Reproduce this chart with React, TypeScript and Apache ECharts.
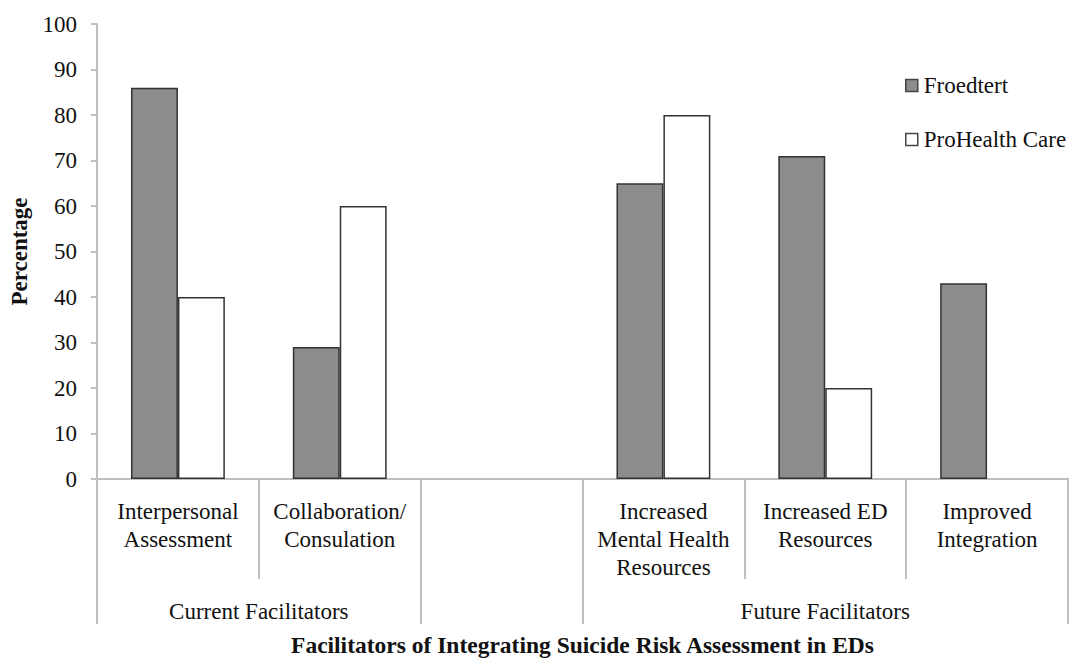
import React, { useEffect, useRef } from "react";
import * as echarts from "echarts";

const categories = [
  "Interpersonal\nAssessment",
  "Collaboration/\nConsulation",
  "",
  "Increased\nMental Health\nResources",
  "Increased ED\nResources",
  "Improved\nIntegration",
];
const froedtert: (number | null)[] = [86, 29, null, 65, 71, 43];
const proHealth: (number | null)[] = [40, 60, null, 80, 20, null];
const groupLabels = ["Current Facilitators", "Future Facilitators"];
const groupCenters = [1, 4.5];
const groupBounds = [0, 2, 3, 6];
const yTicks = { min: 0, max: 100, interval: 10 };

const FONT = "Liberation Serif";
const FS = 23;
const GRAY = "#bfbfbf";
const TXT = "#111";

export default function App() {
  const ref = useRef<HTMLDivElement>(null);
  useEffect(() => {
    document.body.style.margin = "0";
    const chart = echarts.init(ref.current!, null, { renderer: "svg" });
    chart.setOption({
      animation: false,
      backgroundColor: "#fff",
      textStyle: { fontFamily: FONT, color: TXT },
      grid: {
        left: 97,
        right: 6,
        top: 24,
        bottom: 181,
        containLabel: false,
        outerBoundsMode: "none",
      },
      legend: {
        orient: "vertical",
        left: 900,
        top: 69,
        itemWidth: 12,
        itemHeight: 12,
        itemGap: 31,
        textStyle: { fontFamily: FONT, fontSize: FS, color: TXT, padding: [0, 0, 0, 1] },
        data: [
          { name: "Froedtert", icon: "rect", itemStyle: { color: "#8c8c8c", borderColor: "#444", borderWidth: 1.5 } },
          { name: "ProHealth Care", icon: "rect", itemStyle: { color: "#fff", borderColor: "#444", borderWidth: 1.5 } },
        ],
      },
      xAxis: [
        {
          type: "category",
          data: categories,
          position: "bottom",
          axisLine: { lineStyle: { color: GRAY, width: 2 } },
          axisTick: { show: true, length: 100, lineStyle: { color: GRAY, width: 2 } },
          axisLabel: {
            interval: 0,
            margin: 18,
            fontFamily: FONT,
            fontSize: FS,
            lineHeight: 28,
            color: TXT,
            verticalAlign: "top",
          },
          splitLine: { show: false },
          name: "Facilitators of Integrating Suicide Risk Assessment in EDs",
          nameLocation: "middle",
          nameGap: 154,
          nameTextStyle: { fontFamily: FONT, fontSize: 23.5, fontWeight: "bold", color: TXT },
        },
        {
          type: "value",
          min: 0,
          max: 6,
          position: "bottom",
          axisLine: { show: false },
          splitLine: { show: false },
          axisTick: {
            show: true,
            length: 145,
            customValues: groupBounds,
            lineStyle: { color: GRAY, width: 2 },
          },
          axisLabel: {
            customValues: groupCenters,
            margin: 121,
            fontFamily: FONT,
            fontSize: FS,
            color: TXT,
            formatter: (v: number) => {
              const i = groupCenters.indexOf(v);
              return i >= 0 ? groupLabels[i] : "";
            },
          },
        },
      ],
      yAxis: {
        type: "value",
        min: yTicks.min,
        max: yTicks.max,
        interval: yTicks.interval,
        axisLine: { show: true, lineStyle: { color: GRAY, width: 2 } },
        axisTick: { show: true, length: 6, lineStyle: { color: GRAY, width: 2 } },
        splitLine: { show: false },
        axisLabel: { margin: 20, fontFamily: FONT, fontSize: FS, color: TXT },
        name: "Percentage",
        nameLocation: "middle",
        nameGap: 66,
        nameRotate: 90,
        nameTextStyle: { fontFamily: FONT, fontSize: FS, fontWeight: "bold", color: TXT },
      },
      series: [
        {
          name: "Froedtert",
          type: "bar",
          data: froedtert,
          barGap: "0%",
          barCategoryGap: "42%",
          itemStyle: { color: "#8c8c8c", borderColor: "#333", borderWidth: 1.5 },
        },
        {
          name: "ProHealth Care",
          type: "bar",
          data: proHealth,
          barGap: "0%",
          barCategoryGap: "42%",
          itemStyle: { color: "#fff", borderColor: "#333", borderWidth: 1.5 },
        },
      ],
    });
    return () => chart.dispose();
  }, []);
  return <div ref={ref} style={{ width: 1074, height: 660 }} />;
}
